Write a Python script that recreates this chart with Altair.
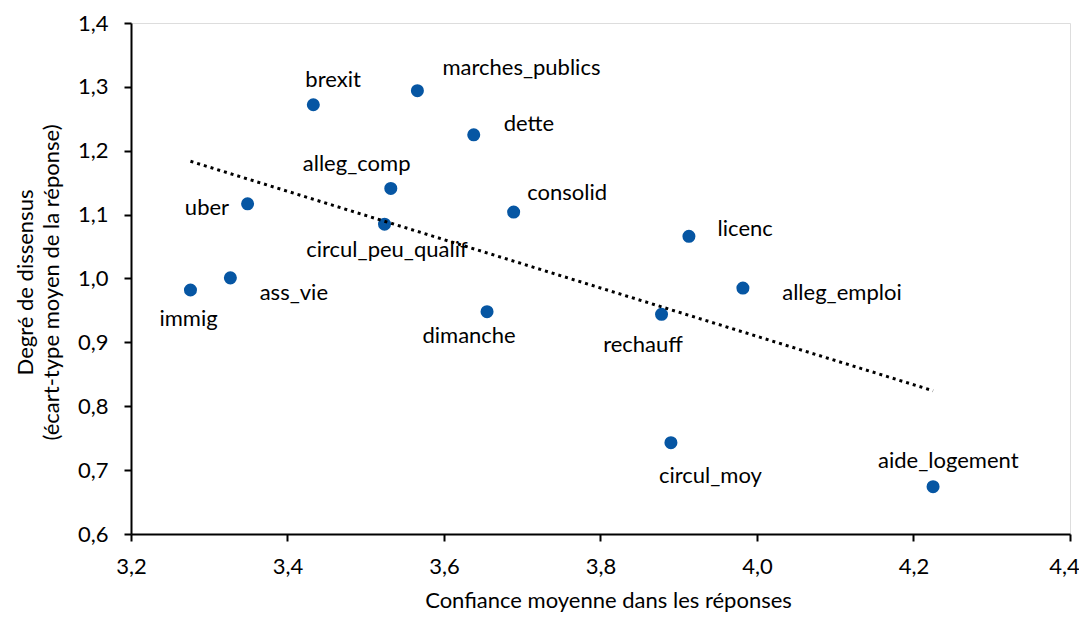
import altair as alt
import pandas as pd

# --- data ---
names = ["brexit", "marches_publics", "dette", "alleg_comp", "uber", "consolid",
         "circul_peu_qualif", "licenc", "immig", "ass_vie", "alleg_emploi",
         "dimanche", "rechauff", "circul_moy", "aide_logement"]
confiance = [3.433, 3.566, 3.638, 3.532, 3.349, 3.689,
             3.524, 3.913, 3.276, 3.327, 3.982,
             3.655, 3.878, 3.890, 4.225]
dissensus = [1.272, 1.294, 1.225, 1.141, 1.117, 1.104,
             1.085, 1.066, 0.982, 1.001, 0.985,
             0.948, 0.944, 0.743, 0.674]

x_ticks = [3.2, 3.4, 3.6, 3.8, 4.0, 4.2, 4.4]
y_ticks = [0.6, 0.7, 0.8, 0.9, 1.0, 1.1, 1.2, 1.3, 1.4]

x_title = "Confiance moyenne dans les réponses"
y_title = ["Degré de dissensus", "(écart-type moyen de la réponse)"]

# label placement (pixels relative to the point; layout only)
label_offsets = {
    "brexit": (-8, -18, "left"),
    "marches_publics": (25, -15.5, "left"),
    "dette": (30, -3.3, "left"),
    "alleg_comp": (-88, -17, "left"),
    "uber": (-18.5, 11.7, "right"),
    "consolid": (13.6, -11.6, "left"),
    "circul_peu_qualif": (-78.3, 32.4, "left"),
    "licenc": (28.7, -0.6, "left"),
    "immig": (-31, 36, "left"),
    "ass_vie": (29.3, 22, "left"),
    "alleg_emploi": (39.3, 11.7, "left"),
    "dimanche": (-64.6, 31.3, "left"),
    "rechauff": (-58.4, 38, "left"),
    "circul_moy": (-12, 40, "left"),
    "aide_logement": (-55, -19, "left"),
}

df = pd.DataFrame({"name": names, "x": confiance, "y": dissensus})

FONT = "Lato"
FS = 22

xscale = alt.Scale(domain=[3.2, 4.4], nice=False, zero=False)
yscale = alt.Scale(domain=[0.6, 1.4], nice=False, zero=False)

x_enc = alt.X("x:Q", scale=xscale, axis=alt.Axis(
    values=x_ticks, format=",.1f", title=x_title, grid=False,
    domainColor="black", domainWidth=2, tickColor="black", tickWidth=2, tickSize=7,
    labelFont=FONT, labelFontSize=FS, labelColor="black", labelBaseline="alphabetic",
    labelPadding=32, labelFlush=False,
    labelOffset={"condition": {"test": "datum.value >= 4.39", "value": -6}, "value": 0},
    titleFont=FONT, titleFontSize=FS, titleFontWeight="normal", titleColor="black",
    titleBaseline="alphabetic", titleX=477, titleY=73, titleAnchor="middle"))
y_enc = alt.Y("y:Q", scale=yscale, axis=alt.Axis(
    values=y_ticks, format=",.1f", title=y_title, grid=False,
    domainColor="black", domainWidth=2, tickColor="black", tickWidth=2, tickSize=7,
    labelFont=FONT, labelFontSize=FS, labelColor="black", labelPadding=16,
    labelFlush=False,
    titleFont=FONT, titleFontSize=FS, titleFontWeight="normal", titleColor="black",
    titleBaseline="alphabetic", titleAlign="center", titleAngle=-90,
    titleX=-99, titleY=259, titleLineHeight=26))

base = alt.Chart(df)

points = base.mark_circle(size=170, opacity=1, color="#0656a3").encode(x=x_enc, y=y_enc)

labels = []
for n in names:
    dx, dy, al = label_offsets[n]
    labels.append(
        base.transform_filter(alt.datum.name == n)
        .mark_text(dx=dx, dy=dy, align=al, baseline="alphabetic",
                   font=FONT, fontSize=FS, color="black")
        .encode(x="x:Q", y="y:Q", text="name:N")
    )

trend = base.transform_regression("x", "y").mark_line(
    color="black", strokeWidth=3, strokeDash=[3, 4]
).encode(x="x:Q", y="y:Q")

chart = alt.layer(points, *labels, trend).properties(
    width=939, height=511,
    padding={"left": 123, "top": 15, "right": 9, "bottom": 78},
    autosize=alt.AutoSizeParams(type="none"),
).configure_view(stroke=None).configure(locale={"number": {"decimal": ",", "thousands": " ", "grouping": [3], "currency": ["", " €"]}})

chart.save("out.html", embed_options={"renderer": "svg", "actions": False})
